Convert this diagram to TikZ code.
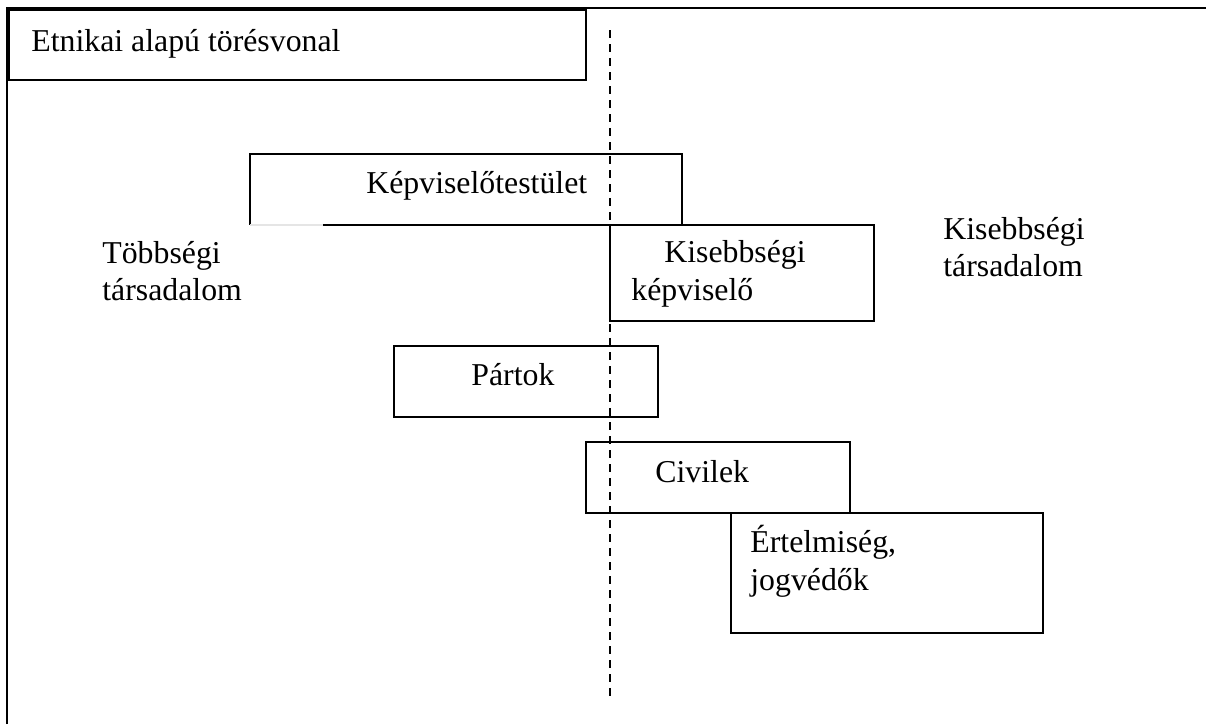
\documentclass[tikz,border=0pt]{standalone}
\usepackage{fontspec}
\setmainfont{Liberation Serif}
\usetikzlibrary{positioning}

\begin{document}
\begin{tikzpicture}[x=0.5pt,y=-0.5pt,
  box/.style={draw,line width=1.2pt},
  lbl/.style={anchor=base west,inner sep=0pt,align=left,font=\fontsize{15.9}{18.75}\selectfont}]
\useasboundingbox (0,0) rectangle (1206,724);
\draw[line width=1pt] (7,724)--(7,8)--(1206,8);
\draw[box] (9,10) rectangle (586,80);
\node[lbl] (title) at (31,51) {Etnikai alapú törésvonal};
\draw[dash pattern=on 4pt off 3pt,line width=0.8pt] (610,30)--(610,698);
% boxes
\draw[box] (323,225)--(682,225)--(682,154)--(250,154)--(250,225);
\draw[gray!20,line width=1.2pt] (250,225)--(323,225);
\draw[box] (610,225) rectangle (874,321);
\draw[box] (394,346) rectangle (658,417);
\draw[box] (586,442) rectangle (850,513);
\draw[box] (731,513) rectangle (1043,633);
% texts
\node[lbl] (kt) at (366,193) {Képviselőtestület};
\node[lbl] (kk) at (631,300) {\hspace{16.5pt}Kisebbségi\\képviselő};
\node[lbl] (tobb) at (102,300.7) {Többségi\\társadalom};
\node[lbl] (kis) at (943,276.7) {Kisebbségi\\társadalom};
\node[lbl] (part) at (471,385) {Pártok};
\node[lbl] (civ) at (655,482) {Civilek};
\node[lbl] (ert) at (750,590) {Értelmiség,\\jogvédők};
\end{tikzpicture}
\end{document}
